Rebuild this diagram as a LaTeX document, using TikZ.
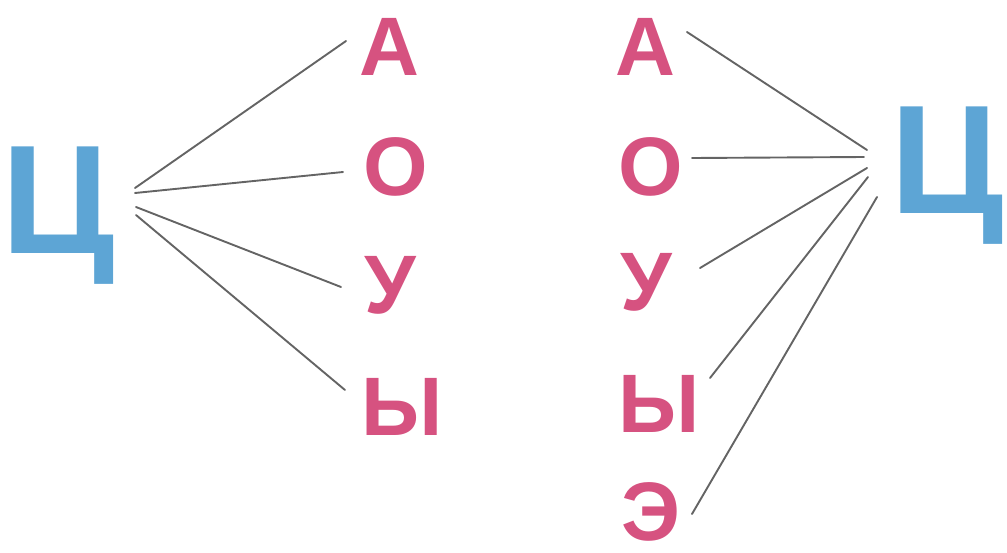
\documentclass[tikz,border=0pt]{standalone}
\usepackage{fontspec}
\setmainfont{Liberation Sans}
\definecolor{vowel}{RGB}{214,82,128}
\definecolor{tse}{RGB}{93,165,213}
\definecolor{link}{RGB}{100,100,100}
\begin{document}
\begin{tikzpicture}[x=1pt,y=-1pt,
  letter/.style={inner sep=0pt,outer sep=0pt,anchor=base,text=vowel,font=\fontsize{83}{83}\selectfont\bfseries},
  big/.style={inner sep=0pt,outer sep=0pt,anchor=base,text=tse,font=\fontsize{155}{155}\selectfont\bfseries},
  link/.style={draw=link,line width=1.9pt,line cap=round}]
\useasboundingbox (0,0) rectangle (1007,552);
% left group
\node[big] (LC) at (58,253) {Ц};
\node[letter] (LA) at (389,75) {А};
\node[letter] (LO) at (396,195) {О};
\node[letter] (LU) at (390,313) {У};
\node[letter] (LY) at (402,435) {Ы};
% right group
\node[big] (RC) at (947,213) {Ц};
\node[letter] (RA) at (645,75) {А};
\node[letter] (RO) at (651,195) {О};
\node[letter] (RU) at (646,310) {У};
\node[letter] (RY) at (659,432) {Ы};
\node[letter] (RE) at (651,540) {Э};
% connector ends
\coordinate (lsA) at (135,188); \coordinate (leA) at (346,41);
\coordinate (lsO) at (135,193); \coordinate (leO) at (343,172);
\coordinate (lsU) at (136,207); \coordinate (leU) at (341,287);
\coordinate (lsY) at (136,215); \coordinate (leY) at (345,390);
\coordinate (rsA) at (687,32);  \coordinate (reA) at (867,150);
\coordinate (rsO) at (692,158); \coordinate (reO) at (864,157);
\coordinate (rsU) at (700,268); \coordinate (reU) at (867,168);
\coordinate (rsY) at (710,378); \coordinate (reY) at (868,177);
\coordinate (rsE) at (692,514); \coordinate (reE) at (877,197);
\draw[link] (lsA) -- (leA);
\draw[link] (lsO) -- (leO);
\draw[link] (lsU) -- (leU);
\draw[link] (lsY) -- (leY);
\draw[link] (rsA) -- (reA);
\draw[link] (rsO) -- (reO);
\draw[link] (rsU) -- (reU);
\draw[link] (rsY) -- (reY);
\draw[link] (rsE) -- (reE);
\end{tikzpicture}
\end{document}
